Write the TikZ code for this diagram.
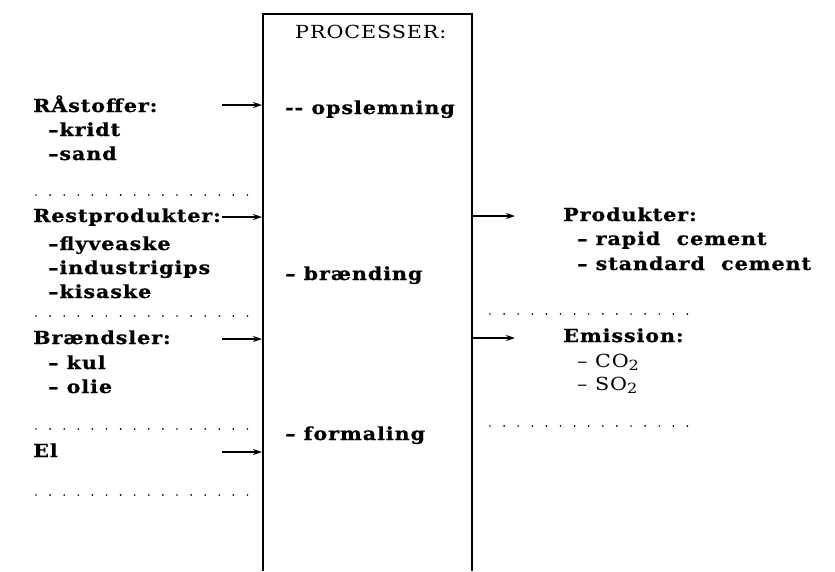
\documentclass[tikz,border=0pt]{standalone}
\usepackage{fontspec}
\setmainfont{DejaVu Serif}
\newfontfamily\labfont[LetterSpace=5,FakeStretch=1.15,BoldFeatures={FakeBold=0.8}]{DejaVu Serif}
\usetikzlibrary{arrows.meta}
\tikzset{
  lbl/.style={anchor=base west, inner sep=0pt, font=\labfont\fontsize{18}{21}\selectfont\bfseries},
  plain/.style={anchor=base west, inner sep=0pt, font=\labfont\fontsize{18}{21}\selectfont},
  flow/.style={line width=1.3pt, -{Stealth[length=9pt,width=6pt]}},
  wall/.style={line width=1.8pt},
  dotrow/.style={line width=1.9pt, line cap=round, dash pattern=on 0pt off 14.1pt}
}
\newcommand{\sub}[1]{\raisebox{-0.35ex}{\fontsize{14}{15}\selectfont #1}}
\begin{document}
\begin{tikzpicture}[x=1pt,y=-1pt]
\useasboundingbox (0,0) rectangle (835,571);

% process column, open at the bottom
\draw[wall] (263,571) -- (263,14) -- (472,14) -- (472,571);
\node[plain] (proc) at (295,38) {PROCESSER:};
\node[lbl] (p1) at (285,114) {-{}- opslemning};
\node[lbl] (p2) at (285,280) {– brænding};
\node[lbl] (p3) at (285,440) {– formaling};

% inputs
\node[lbl] (raa) at (33,112) {RÅstoffer:};
\node[lbl] (raa1) at (48,136) {–kridt};
\node[lbl] (raa2) at (48,160) {–sand};
\node[lbl] (rest) at (33,222) {Restprodukter:};
\node[lbl] (rest1) at (48,250) {–flyveaske};
\node[lbl] (rest2) at (48,274) {–industrigips};
\node[lbl] (rest3) at (48,298) {–kisaske};
\node[lbl] (fuel) at (33,344) {Brændsler:};
\node[lbl] (fuel1) at (48,369) {– kul};
\node[lbl] (fuel2) at (48,393) {– olie};
\node[lbl] (el) at (33,457) {El};

\foreach \y in {195,316,429,495}
  \draw[dotrow] (36,\y) -- (249,\y);

\coordinate (a1) at (222,105);  \coordinate (b1) at (262,105);
\coordinate (a2) at (222,217);  \coordinate (b2) at (262,217);
\coordinate (a3) at (222,339);  \coordinate (b3) at (262,339);
\coordinate (a4) at (222,452);  \coordinate (b4) at (262,452);
\draw[flow] (a1) -- (b1);
\draw[flow] (a2) -- (b2);
\draw[flow] (a3) -- (b3);
\draw[flow] (a4) -- (b4);

% outputs
\coordinate (c1) at (473,216);  \coordinate (d1) at (515,216);
\coordinate (c2) at (473,338);  \coordinate (d2) at (515,338);
\draw[flow] (c1) -- (d1);
\draw[flow] (c2) -- (d2);

\node[lbl] (prod) at (563,221) {Produkter:};
\node[lbl] (prod1) at (577,245) {– rapid~~cement};
\node[lbl] (prod2) at (577,270) {– standard~~cement};
\node[lbl] (emis) at (563,342) {Emission:};
\node[plain] (emis1) at (577,367) {– CO\sub{2}};
\node[plain] (emis2) at (577,390) {– SO\sub{2}};

\foreach \y in {314,426}
  \draw[dotrow] (490,\y) -- (688,\y);
\end{tikzpicture}
\end{document}
